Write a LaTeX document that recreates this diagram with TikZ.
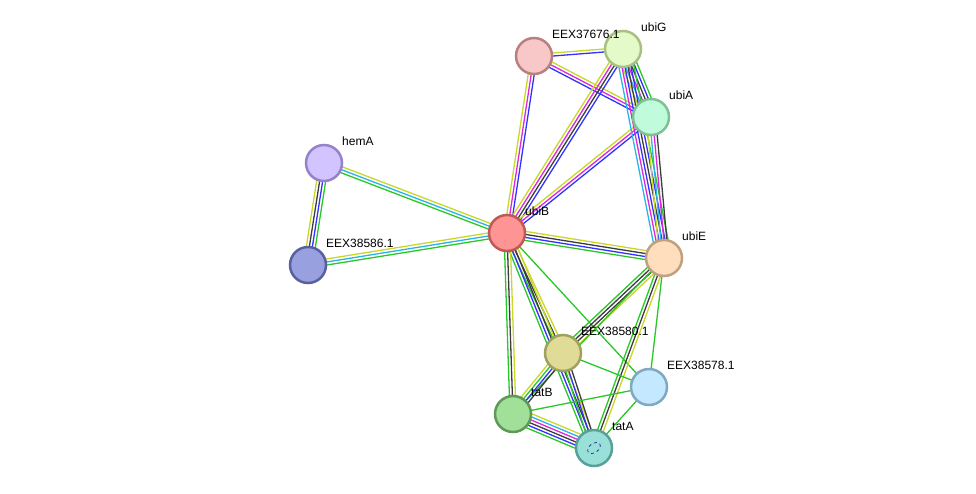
\documentclass[tikz,border=0pt]{standalone}
\usepackage{fontspec}
\setmainfont{Liberation Sans}
\usetikzlibrary{calc, positioning}
\definecolor{lgreen}{RGB}{40,200,40}
\definecolor{lblue}{RGB}{50,50,255}
\definecolor{lblack}{RGB}{60,60,60}
\definecolor{lmag}{RGB}{220,40,220}
\definecolor{lcyan}{RGB}{40,180,230}
\definecolor{lyel}{RGB}{200,215,40}
\tikzstyle{prot} = [circle, minimum size=36pt, inner sep=0pt, line width=2.5pt]
\tikzstyle{plabel} = [anchor=base west, inner sep=0pt, font=\fontsize{12}{14}\selectfont]
\tikzstyle{link} = [line width=1.3pt]
\pgfdeclarelayer{bg}
\pgfsetlayers{bg,main}
% parallel lines: from, to, count, colours
\newcommand{\bundle}[4]{%
  \foreach \c [count=\i] in {#4} {
    \pgfmathsetmacro{\off}{(\i-(#3+1)/2)*3}
    \draw[link, \c] ($(#1)!\off pt!90:(#2)$) -- ($(#2)!\off pt!-90:(#1)$);
  }}

\begin{document}
\begin{tikzpicture}[x=1pt, y=-1pt]
    \useasboundingbox (0,0) rectangle (976,493);
    \node (eex37676) [prot, fill={rgb,255:red,248;green,200;blue,200}, draw={rgb,255:red,184;green,128;blue,128}] at (534,56) {};
    \node (ubiG) [prot, fill={rgb,255:red,228;green,250;blue,200}, draw={rgb,255:red,168;green,192;blue,130}] at (623,49) {};
    \node (ubiA) [prot, fill={rgb,255:red,192;green,252;blue,220}, draw={rgb,255:red,128;green,192;blue,150}] at (651,117) {};
    \node (hemA) [prot, fill={rgb,255:red,210;green,196;blue,255}, draw={rgb,255:red,150;green,130;blue,200}] at (324,163) {};
    \node (ubiB) [prot, fill={rgb,255:red,255;green,148;blue,148}, draw={rgb,255:red,192;green,88;blue,88}] at (507,233) {};
    \node (eex38586) [prot, fill={rgb,255:red,152;green,160;blue,224}, draw={rgb,255:red,88;green,96;blue,160}] at (308,265) {};
    \node (ubiE) [prot, fill={rgb,255:red,255;green,222;blue,190}, draw={rgb,255:red,192;green,160;blue,128}] at (664,258) {};
    \node (eex38580) [prot, fill={rgb,255:red,224;green,220;blue,152}, draw={rgb,255:red,160;green,160;blue,96}] at (563,353) {};
    \node (eex38578) [prot, fill={rgb,255:red,196;green,232;blue,255}, draw={rgb,255:red,128;green,168;blue,192}] at (649,387) {};
    \node (tatB) [prot, fill={rgb,255:red,160;green,224;blue,152}, draw={rgb,255:red,96;green,152;blue,88}] at (513,414) {};
    \node (tatA) [prot, fill={rgb,255:red,152;green,224;blue,216}, draw={rgb,255:red,88;green,160;blue,152}] at (594,448) {};
    \draw[lblue!60!black, line width=0.7pt, dashed, rotate around={35:(tatA.center)}] (tatA.center) ellipse (7 and 4.5);

    \node (l37676) [plabel] at ($(eex37676.center)+(18,-18)$) {EEX37676.1};
    \node (lubiG) [plabel] at ($(ubiG.center)+(18,-18)$) {ubiG};
    \node (lubiA) [plabel] at ($(ubiA.center)+(18,-18)$) {ubiA};
    \node (lhemA) [plabel] at ($(hemA.center)+(18,-18)$) {hemA};
    \node (lubiB) [plabel] at ($(ubiB.center)+(18,-18)$) {ubiB};
    \node (l38586) [plabel] at ($(eex38586.center)+(18,-18)$) {EEX38586.1};
    \node (lubiE) [plabel] at ($(ubiE.center)+(18,-18)$) {ubiE};
    \node (l38580) [plabel] at ($(eex38580.center)+(18,-18)$) {EEX38580.1};
    \node (l38578) [plabel] at ($(eex38578.center)+(18,-18)$) {EEX38578.1};
    \node (ltatB) [plabel] at ($(tatB.center)+(18,-18)$) {tatB};
    \node (ltatA) [plabel] at ($(tatA.center)+(18,-18)$) {tatA};

    \begin{pgfonlayer}{bg}
    \bundle{hemA}{ubiB}{3}{lgreen,lcyan,lyel}
    \bundle{hemA}{eex38586}{4}{lyel,lblack,lblue,lgreen}
    \bundle{eex38586}{ubiB}{3}{lgreen,lcyan,lyel}
    \bundle{eex37676}{ubiG}{2}{lblue,lyel}
    \bundle{eex37676}{ubiA}{3}{lblue,lmag,lyel}
    \bundle{eex37676}{ubiB}{3}{lyel,lmag,lblue}
    \bundle{ubiG}{ubiB}{4}{lyel,lmag,lblack,lblue}
    \bundle{ubiA}{ubiB}{3}{lyel,lmag,lblue}
    \bundle{ubiG}{ubiA}{6}{lyel,lcyan,lmag,lblack,lblue,lgreen}
    \bundle{ubiG}{ubiE}{6}{lcyan,lmag,lblue,lblack,lblue,lgreen}
    \bundle{ubiA}{ubiE}{4}{lyel,lcyan,lmag,lblack}
    \bundle{ubiB}{ubiE}{4}{lgreen,lblue,lblack,lyel}
    \bundle{ubiB}{eex38580}{3}{lgreen,lblack,lyel}
    \bundle{ubiB}{tatA}{4}{lgreen,lblue,lblack,lyel}
    \bundle{ubiB}{tatB}{3}{lgreen,lblack,lyel}
    \bundle{ubiB}{eex38578}{1}{lgreen}
    \bundle{ubiE}{eex38580}{4}{lgreen,lblack,lblack,lyel}
    \bundle{ubiE}{tatA}{3}{lgreen,lblack,lyel}
    \bundle{ubiE}{tatB}{1}{lgreen}
    \bundle{ubiE}{eex38578}{1}{lgreen}
    \bundle{eex38580}{tatB}{4}{lyel,lgreen,lblue,lblack}
    \bundle{eex38580}{tatA}{3}{lgreen,lblue,lblack}
    \bundle{eex38580}{eex38578}{1}{lgreen}
    \bundle{tatB}{eex38578}{1}{lgreen}
    \bundle{tatA}{eex38578}{1}{lgreen}
    \bundle{tatB}{tatA}{6}{lgreen,lblue,lblack,lmag,lcyan,lyel}
    \end{pgfonlayer}
\end{tikzpicture}
\end{document}
